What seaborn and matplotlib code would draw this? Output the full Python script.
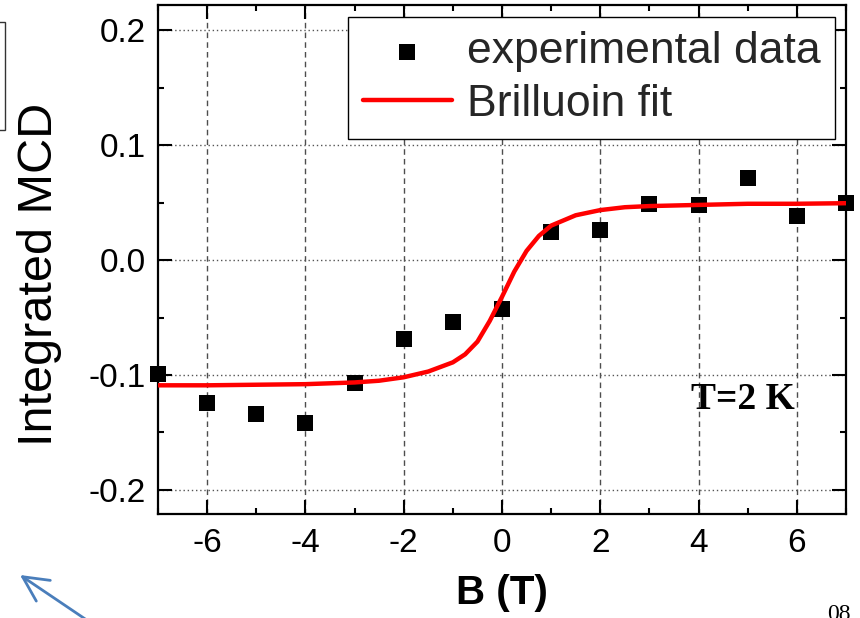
import numpy as np
import pandas as pd
import matplotlib
matplotlib.use("Agg")
import matplotlib.pyplot as plt
import seaborn as sns
from matplotlib.ticker import FixedLocator, FixedFormatter, MultipleLocator
from matplotlib.patches import Rectangle

# ---- data ----
field_T = [-7, -6, -5, -4, -3, -2, -1, 0, 1, 2, 3, 4, 5, 6, 7]
mcd_exp = [-0.099, -0.124, -0.134, -0.142, -0.107, -0.069, -0.054, -0.043,
           0.024, 0.026, 0.049, 0.048, 0.071, 0.038, 0.050]

fit_B = [-7, -6, -5, -4, -3, -2.5, -2, -1.5, -1, -0.75, -0.5, -0.25, 0,
         0.25, 0.5, 0.75, 1, 1.5, 2, 2.5, 3, 4, 5, 6, 7]
fit_mcd = [-0.109, -0.109, -0.1085, -0.108, -0.1065, -0.105, -0.102, -0.097,
           -0.089, -0.082, -0.071, -0.053, -0.032, -0.010, 0.008, 0.021,
           0.030, 0.039, 0.0435, 0.046, 0.047, 0.048, 0.049, 0.049, 0.0495]

x_ticks = [-6, -4, -2, 0, 2, 4, 6]
x_tick_labels = ["-6", "-4", "-2", "0", "2", "4", "6"]
y_ticks = [-0.2, -0.1, 0.0, 0.1, 0.2]
y_tick_labels = ["-0.2", "-0.1", "0.0", "0.1", "0.2"]

exp_label = "experimental data"
fit_label = "Brilluoin fit"

df_exp = pd.DataFrame({"B": field_T, "MCD": mcd_exp})
df_fit = pd.DataFrame({"B": fit_B, "MCD": fit_mcd})

sns.set_theme(style="ticks")
plt.rcParams["font.family"] = ["Liberation Sans", "DejaVu Sans"]
plt.rcParams["axes.unicode_minus"] = False

W, H = 860, 618
fig = plt.figure(figsize=(8.6, 6.18), dpi=100)
ax = fig.add_axes([158 / W, 1 - 514 / H, (846 - 158) / W, (514 - 5) / H])

# grid
for xv in x_ticks:
    ax.axvline(xv, color="#4d4d4d", lw=1.0, ls=(0, (4, 3)), zorder=0)
for yv in y_ticks:
    ax.axhline(yv, color="#555555", lw=1.0, ls=(0, (1, 2)), zorder=0)

sns.scatterplot(data=df_exp, x="B", y="MCD", ax=ax, marker="s", s=130,
                color="black", edgecolor="black", linewidth=0,
                label=exp_label, zorder=3, clip_on=False)
sns.lineplot(data=df_fit, x="B", y="MCD", ax=ax, color="#ff0000", lw=3.2,
             label=fit_label, zorder=4)

ax.set_xlim(-7, 7)
ax.set_ylim(-0.221, 0.222)

ax.xaxis.set_major_locator(FixedLocator(x_ticks))
ax.xaxis.set_major_formatter(FixedFormatter(x_tick_labels))
ax.xaxis.set_minor_locator(MultipleLocator(1))
ax.yaxis.set_major_locator(FixedLocator(y_ticks))
ax.yaxis.set_major_formatter(FixedFormatter(y_tick_labels))
ax.yaxis.set_minor_locator(MultipleLocator(0.05))

ax.tick_params(which="both", direction="in", top=True, right=True,
               color="black", width=1.5)
ax.tick_params(which="major", length=10)
ax.tick_params(which="minor", length=4)
ax.tick_params(axis="x", which="major", labelsize=24, pad=10, labelcolor="black")
ax.tick_params(axis="y", which="major", labelsize=24, pad=9, labelcolor="black")

for sp in ax.spines.values():
    sp.set_color("black")
    sp.set_linewidth(1.6)

ax.set_xlabel("B (T)", fontsize=29, fontweight="bold", color="black")
ax.set_ylabel("Integrated MCD", fontsize=35, color="black")
ax.xaxis.set_label_coords(0.5, -0.118)
ax.yaxis.set_label_coords(-0.1395, 0.4715)

leg = ax.legend(loc="upper right", bbox_to_anchor=(0.984, 0.976),
                borderaxespad=0, fontsize=32, frameon=True, fancybox=False,
                framealpha=1, edgecolor="black", handlelength=2.0,
                labelspacing=0.25, borderpad=0.32, handletextpad=0.35,
                markerscale=1.0)
leg.get_frame().set_linewidth(1.0)

ax.text(0.925, 0.225, "T=2 K", transform=ax.transAxes, ha="right",
        va="center", fontsize=27, fontweight="bold",
        family=["Liberation Serif", "DejaVu Serif"], color="black")

# slide artifacts around the crop
fig.add_artist(Rectangle((-20 / W, 1 - 130 / H), 25 / W, 108 / H,
                         transform=fig.transFigure, fill=False,
                         edgecolor="#333333", lw=1.0))
ax.annotate("", xy=(20, H - 575), xytext=(100, H - 629),
            xycoords="figure pixels", textcoords="figure pixels",
            arrowprops=dict(arrowstyle="->,head_length=0.9,head_width=0.45",
                            color="#4a7ebb", lw=2, mutation_scale=20,
                            shrinkA=0, shrinkB=0),
            annotation_clip=False)
fig.text(827 / W, 1 - 604 / H, "08", ha="left", va="top", fontsize=17,
         family=["Liberation Serif", "DejaVu Serif"], color="black")

fig.savefig("out.png", dpi=100)
